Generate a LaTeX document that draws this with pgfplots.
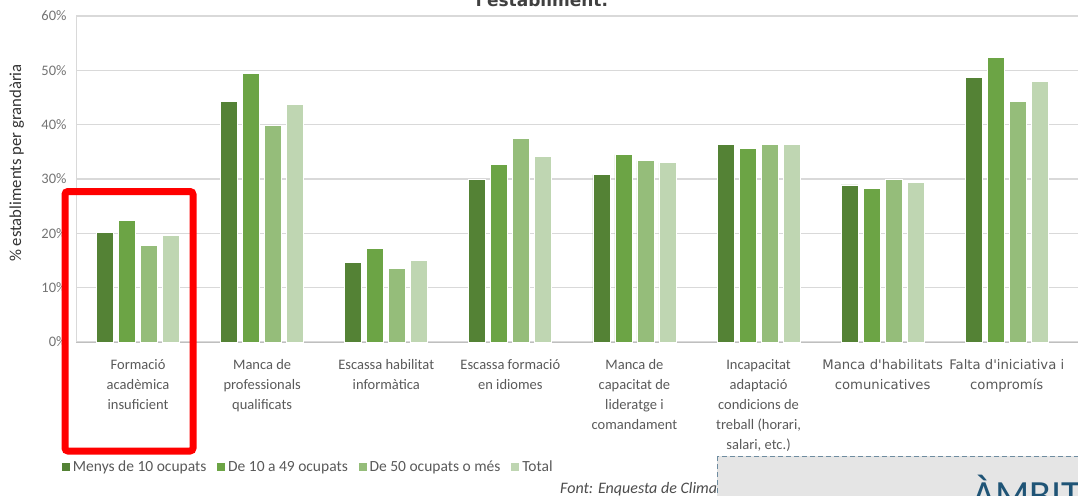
\documentclass[border=0pt]{standalone}
\usepackage{fontspec}
\setmainfont{Carlito}
\newfontfamily\dejavu{DejaVu Sans}
\newcommand\wide{\dejavu\fontsize{13.2}{20}\selectfont}
\usepackage{pgfplots}
\pgfplotsset{compat=1.18}

\definecolor{gA}{RGB}{84,130,53}
\definecolor{gB}{RGB}{108,164,69}
\definecolor{gC}{RGB}{149,189,122}
\definecolor{gD}{RGB}{191,214,178}
\definecolor{txt}{RGB}{89,89,89}
\definecolor{gridc}{RGB}{217,217,217}
\definecolor{boxfill}{RGB}{229,229,229}
\definecolor{boxline}{RGB}{110,140,160}
\definecolor{ambit}{RGB}{31,84,118}

\begin{document}
\begin{tikzpicture}[x=1pt,y=1pt]
\useasboundingbox (0,0) rectangle (1078,-495);
\clip (0,0) rectangle (1078,-495);
\begin{axis}[
    at={(138.05pt,-342pt)}, anchor=origin,
    scale only axis, width=1002pt, height=326pt,
    xmin=-0.5, xmax=7.574, ymin=0, ymax=60,
    ybar=5pt, bar width=17pt,
    axis x line*=bottom, axis y line*=left,
    axis line style={draw=gridc, line width=1pt},
    x axis line style={draw=black!25},
    ymajorgrids, grid style={draw=gridc, line width=1.2pt},
    major tick length=0pt,
    ytick={0,10,20,30,40,50,60},
    yticklabels={0\%,10\%,20\%,30\%,40\%,50\%,60\%},
    yticklabel style={font=\fontsize{14.5}{16}\selectfont, text=black!55, xshift=-6pt},
    xtick={0,1,2,3,4,5,6,7},
    xticklabels={{Formació\\acadèmica\\insuficient},
                 {Manca de\\professionals\\qualificats},
                 {Escassa habilitat\\informàtica},
                 {Escassa formació\\en idiomes},
                 {Manca de\\capacitat de\\lideratge i\\comandament},
                 {Incapacitat\\adaptació\\condicions de\\treball (horari,\\salari, etc.)},
                 {\wide Manca d'habilitats\\\wide comunicatives},
                 {\wide Falta d'iniciativa i\\\wide compromís}},
    xticklabel style={font=\fontsize{14.5}{20}\selectfont, text=txt, align=center, yshift=-14pt},
    ylabel={\% establiments per grandària},
    ylabel style={at={(axis description cs:-0.059,0.549)}, anchor=center,
                  font=\fontsize{16.7}{18}\selectfont, text=black!80},
    legend style={at={(axis description cs:-0.018,-0.383)}, anchor=west,
                  draw=none, fill=none, legend columns=-1,
                  font=\fontsize{15.5}{17}\selectfont, text=txt,
                  /tikz/every even column/.append style={column sep=8pt}},
    legend image code/.code={\fill[#1] (0pt,-4.5pt) rectangle (9pt,4.5pt);},
    every axis plot/.append style={draw=white, line width=0.8pt},
  ]
  \addplot[fill=gA] coordinates {(0,20.1) (1,44.2) (2,14.7) (3,30.0) (4,30.8) (5,36.4) (6,28.9) (7,48.7)};
  \addplot[fill=gB] coordinates {(0,22.3) (1,49.5) (2,17.3) (3,32.7) (4,34.5) (5,35.7) (6,28.2) (7,52.4)};
  \addplot[fill=gC] coordinates {(0,17.7) (1,39.8) (2,13.6) (3,37.5) (4,33.4) (5,36.4) (6,30.0) (7,44.2)};
  \addplot[fill=gD] coordinates {(0,19.6) (1,43.8) (2,15.0) (3,34.1) (4,33.0) (5,36.4) (6,29.3) (7,47.9)};
  \legend{Menys de 10 ocupats, De 10 a 49 ocupats, De 50 ocupats o més, Total}
\end{axis}
% title, of which only the last line shows
\node[anchor=base, inner sep=0, text=black!75,
      font=\dejavu\bfseries\fontsize{17}{20}\selectfont] at (542,-7) {l'establiment.};
\draw[red, line width=7pt, rounded corners=3pt] (65,-191.5) rectangle (193,-451);
\node[anchor=base west, inner sep=0, text=black!70,
      font=\itshape\fontsize{16}{18}\selectfont] at (560,-493) {Font: Enquesta de Clima Empresarial};
\filldraw[fill=boxfill, draw=boxline, line width=1pt, dash pattern=on 5pt off 3pt]
  (717,-456) rectangle (1100,-530);
\node[anchor=base west, inner sep=0, text=ambit,
      font=\fontsize{40}{40}\selectfont] at (972,-508) {ÀMBIT};
\end{tikzpicture}
\end{document}
